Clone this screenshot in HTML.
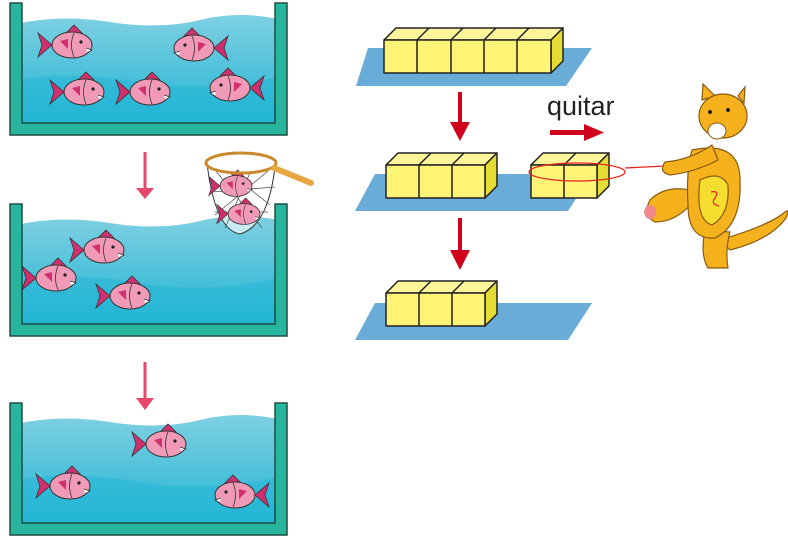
<!DOCTYPE html>
<html><head><style>body{margin:0;background:#fff}svg{display:block}</style></head><body>
<svg width="788" height="539" viewBox="0 0 788 539" xmlns="http://www.w3.org/2000/svg">
<defs>
<linearGradient id="w" x1="0" y1="0" x2="0" y2="1"><stop offset="0" stop-color="#7fd0e2"/><stop offset="1" stop-color="#1fb4d4"/></linearGradient>
<g id="fishR">
<path d="M-20,0 L-34,-12 L-30,0 L-34,12 Z" fill="#d0306e" stroke="#333" stroke-width="0.8"/>
<path d="M-6,-12 L2,-20 L10,-12 Z" fill="#d0306e" stroke="#333" stroke-width="0.8"/>
<ellipse cx="0" cy="0" rx="20" ry="13" fill="#f19ab8" stroke="#333" stroke-width="1"/>
<path d="M2,-12 Q-3,0 2,12" fill="none" stroke="#333" stroke-width="0.8"/>
<path d="M-12,-4 L-4,-6 L-4,4 Z" fill="#d0306e"/>
<circle cx="9" cy="-3" r="1.6" fill="#222"/>
<path d="M14,3 L20,5 L15,8" fill="#fff" stroke="#333" stroke-width="0.8"/>
</g>
<g id="fishL"><use href="#fishR" transform="scale(-1,1)"/></g>
<g id="tank">
<path d="M16,24 Q60,14 110,22 T200,20 T282,20 L282,128 L16,128 Z" fill="url(#w)"/>
<path d="M16,80 Q70,70 140,82 T282,76 L282,128 L16,128 Z" fill="#22b6d6" opacity="0.5"/>
<path d="M10,3 H22 V123 H275 V3 H287 V135 H10 Z" fill="#27b59d" stroke="#1f4d45" stroke-width="1.5"/>
</g>
</defs>

<use href="#tank"/>
<use href="#fishR" transform="translate(72,45)"/>
<use href="#fishL" transform="translate(194,48)"/>
<use href="#fishR" transform="translate(84,92)"/>
<use href="#fishR" transform="translate(150,92)"/>
<use href="#fishL" transform="translate(230,88)"/>

<use href="#tank" transform="translate(0,201)"/>
<use href="#fishR" transform="translate(104,250)"/>
<use href="#fishR" transform="translate(56,278)"/>
<use href="#fishR" transform="translate(130,296)"/>

<use href="#tank" transform="translate(0,400)"/>
<use href="#fishR" transform="translate(166,444)"/>
<use href="#fishR" transform="translate(70,486)"/>
<use href="#fishL" transform="translate(235,495)"/>

<!-- net -->
<path d="M207,163 Q215,230 240,234 Q268,226 275,167" fill="#fff" fill-opacity="0.6" stroke="#333" stroke-width="1"/>
<path d="M215,170 L262,228 M230,173 L270,205 M250,173 L225,228 M268,171 L215,215 M212,192 L275,187 M215,212 L268,212" stroke="#555" stroke-width="0.8"/>
<use href="#fishR" transform="translate(236,186) scale(0.8)"/>
<use href="#fishR" transform="translate(244,214) scale(0.8)"/>
<ellipse cx="241" cy="163" rx="35" ry="10" fill="none" stroke="#c98a2e" stroke-width="3"/>
<path d="M274,168 L311,183" stroke="#e8a640" stroke-width="6" stroke-linecap="round"/>

<!-- pink arrows -->
<g fill="#e8476a" stroke="#e8476a">
<line x1="145" y1="152" x2="145" y2="190" stroke-width="3"/><path d="M136,188 L154,188 L145,199 Z" stroke="none"/>
<line x1="145" y1="362" x2="145" y2="400" stroke-width="3"/><path d="M136,398 L154,398 L145,410 Z" stroke="none"/>
</g>

<!-- mats -->
<path d="M368,48 L592,48 L566,86 L356,86 Z" fill="#69acd8"/>
<path d="M375,174 L592,174 L568,211 L355,211 Z" fill="#69acd8"/>
<path d="M375,303 L592,303 L568,340 L355,340 Z" fill="#69acd8"/>

<!-- cubes -->
<g stroke="#222" stroke-width="1.5" stroke-linejoin="round">
<path d="M384,40 L396,28 L563,28 L551,40 Z" fill="#fdf59a"/>
<path d="M551,40 L563,28 L563,61 L551,73 Z" fill="#e6dc36"/>
<rect x="384" y="40" width="167" height="33" fill="#fef577"/>
<path d="M417,40 V73 M451,40 V73 M484,40 V73 M517,40 V73 M429,28 L417,40 M463,28 L451,40 M496,28 L484,40 M529,28 L517,40" fill="none"/>

<path d="M386,165 L398,153 L497,153 L485,165 Z" fill="#fdf59a"/>
<path d="M485,165 L497,153 L497,186 L485,198 Z" fill="#e6dc36"/>
<rect x="386" y="165" width="99" height="33" fill="#fef577"/>
<path d="M419,165 V198 M452,165 V198 M431,153 L419,165 M464,153 L452,165" fill="none"/>

<path d="M531,165 L543,153 L609,153 L597,165 Z" fill="#fdf59a"/>
<path d="M597,165 L609,153 L609,186 L597,198 Z" fill="#e6dc36"/>
<rect x="531" y="165" width="66" height="33" fill="#fef577"/>
<path d="M564,165 V198 M576,153 L564,165" fill="none"/>

<path d="M386,293 L398,281 L497,281 L485,293 Z" fill="#fdf59a"/>
<path d="M485,293 L497,281 L497,314 L485,326 Z" fill="#e6dc36"/>
<rect x="386" y="293" width="99" height="33" fill="#fef577"/>
<path d="M419,293 V326 M452,293 V326 M431,281 L419,293 M464,281 L452,293" fill="none"/>
</g>
<ellipse cx="577" cy="172" rx="48" ry="9" fill="none" stroke="#e8261e" stroke-width="1.3"/>
<line x1="625" y1="168" x2="665" y2="166" stroke="#e8261e" stroke-width="1.3"/>

<!-- red arrows -->
<g fill="#d0021b">
<rect x="458" y="92" width="4" height="32"/><path d="M450,122 L470,122 L460,141 Z"/>
<rect x="458" y="218" width="4" height="34"/><path d="M450,250 L470,250 L460,270 Z"/>
<rect x="550" y="130" width="36" height="5"/><path d="M584,124 L604,132.5 L584,141 Z"/>
</g>
<text x="547" y="115" font-family="Liberation Sans, sans-serif" font-size="27" fill="#222">quitar</text>

<!-- cat -->
<g stroke="#8a5a10" stroke-width="1.2" fill="#f6b21c">
<path d="M720,240 Q770,225 785,212 Q790,208 786,218 Q770,240 730,250 Z"/>
<path d="M705,230 Q700,255 708,268 L728,268 Q725,250 730,232 Z"/>
<path d="M690,190 Q665,185 650,200 Q642,215 655,222 Q675,222 690,205 Z"/>
<path d="M692,150 Q740,140 740,180 Q742,225 715,238 Q688,240 688,205 Q686,170 692,150 Z"/>
<path d="M700,180 Q720,170 728,185 Q730,215 712,225 Q695,220 700,180 Z" fill="#f5de30"/>
<path d="M712,145 Q690,160 665,162 Q658,172 670,175 Q695,172 718,160 Z"/>
<path d="M702,100 L703,84 L715,96 Z M738,96 L745,87 L744,103 Z"/>
<ellipse cx="723" cy="116" rx="24" ry="22"/>
</g>
<path d="M650,205 a6,7 0 1,0 0.1,0" fill="#f08a8a"/>
<ellipse cx="717" cy="131" rx="9" ry="8" fill="#fff" stroke="#8a5a10"/>
<circle cx="710" cy="112" r="2" fill="#222"/><circle cx="728" cy="110" r="2" fill="#222"/>
<path d="M711,192 Q720,190 715,198 Q710,204 719,206" fill="none" stroke="#e8261e" stroke-width="1.3"/>
</svg>
</body></html>
